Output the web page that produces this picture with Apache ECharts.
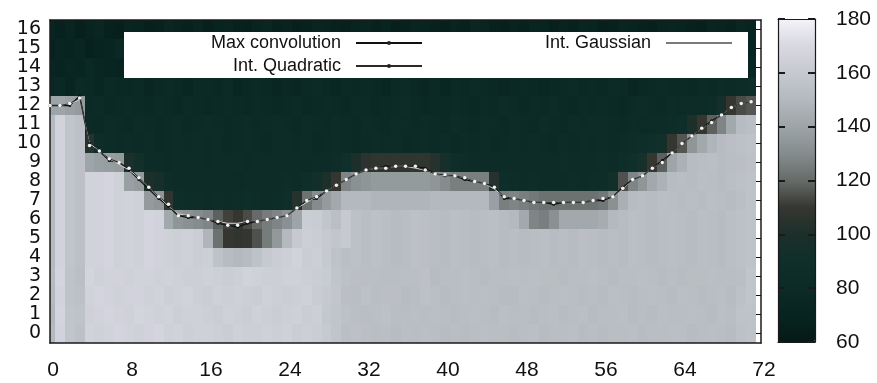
<!DOCTYPE html>
<html>
<head>
<meta charset="utf-8">
<script src="https://cdn.jsdelivr.net/npm/echarts@6/dist/echarts.min.js"></script>
<style>
  html, body { margin: 0; padding: 0; background: #fff; }
  #chart { width: 877px; height: 383px; }
</style>
</head>
<body>
<div id="chart"></div>
<script>
// Column positions (x) and row positions (y) of the intensity grid
const xCols = [0,1,2,3,4,5,6,7,8,9,10,11,12,13,14,15,16,17,18,19,20,21,22,23,
  24,25,26,27,28,29,30,31,32,33,34,35,36,37,38,39,40,41,42,43,44,45,46,47,
  48,49,50,51,52,53,54,55,56,57,58,59,60,61,62,63,64,65,66,67,68,69,70,71];
const yRows = [0,1,2,3,4,5,6,7,8,9,10,11,12,13,14,15,16];

// Intensity values, one array per row, listed from the top row (16) down to row 0
const row16 = [70,68,72,66,70,74,68,66, 72,70,66,68,74,70,68,72, 66,70,72,68,66,70,74,68, 70,66,68,72,70,68,66,70, 72,68,70,66,68,72,70,68, 66,70,68,74,72,68,66,70, 68,72,70,66,70,68,72,70, 66,68,72,70,68,66,70,72, 70,68,66,72,70,68,74,70];
const row15 = [68,72,70,74,68,70,72,76, 70,74,72,70,68,72,76,74, 72,68,70,74,72,68,70,72, 74,72,70,68,72,74,70,68, 70,72,74,70,68,70,72,74, 72,70,68,70,74,72,70,68, 70,74,72,70,68,72,74,72, 72,70,68,72,74,70,72,68, 74,72,70,68,72,74,70,72];
const row14 = [72,70,74,72,76,74,72,70, 74,72,76,78,74,72,70,74, 76,74,72,70,74,76,72,74, 72,76,74,72,70,74,78,76, 74,72,70,76,74,72,74,70, 76,74,72,74,70,76,74,72, 74,72,76,74,72,70,74,76, 72,74,70,72,76,74,72,74, 76,72,74,78,72,74,76,74];
const row13 = [74,76,72,78,76,74,78,76, 76,78,74,76,80,76,74,78, 78,76,80,74,76,78,76,74, 76,74,78,80,76,74,78,76, 78,76,74,78,80,76,74,78, 74,78,76,80,78,76,74,76, 78,76,74,76,78,80,76,78, 76,80,78,74,76,78,80,78, 78,76,80,78,82,80,84,86];
const row12 = [140,140,138,136,78,80,76,78, 80,78,76,80,78,76,80,78, 76,78,80,78,76,80,78,76, 78,80,76,78,80,78,76,80, 80,76,78,80,82,78,76,78, 78,80,78,76,80,78,82,80, 76,80,78,82,78,76,80,78, 80,78,76,80,82,80,78,82, 80,82,84,86,96,110,114,116];
const row11 = [150,166,157,155,80,78,82,80, 78,82,80,78,80,82,78,80, 82,80,78,80,82,78,80,82, 80,78,82,80,78,82,80,78, 82,80,78,82,80,78,82,80, 78,82,80,78,82,80,78,82, 80,78,82,80,78,82,80,82, 82,80,78,82,80,82,84,86, 88,100,110,118,128,142,152,154];
const row10 = [150,166,157,155,104,86,82,80, 82,80,82,78,80,82,80,82, 80,82,78,80,82,80,78,82, 82,80,82,78,80,82,80,78, 80,82,80,82,78,80,82,80, 82,78,82,80,82,78,80,82, 80,82,80,78,82,80,82,80, 82,80,84,86,88,90,92,110, 116,134,142,148,152,154,155,156];
const row9  = [150,166,157,155,140,138,137,136, 100,92,84,82,80,82,84,82, 80,82,84,82,80,82,84,82, 84,82,80,82,84,86,90,100, 106,108,108,108,108,108,108,104, 95,88,86,84,82,84,82,84, 82,84,82,84,86,84,82,84, 86,84,88,90,98,110,118,140, 146,152,153,154,152,153,154,155];
const row8  = [150,166,157,155,166,166,167,165, 138,136,100,95,86,84,82,84, 82,84,82,80,82,84,82,84, 86,84,88,92,100,110,128,132, 134,136,136,136,136,136,136,134, 130,126,126,126,126,104,88,86, 84,86,84,82,84,86,84,86, 86,92,115,128,134,142,146,152, 153,152,154,153,152,154,155,156];
const row7  = [150,166,157,155,166,166,167,165, 166,165,136,134,108,88,86,86, 84,86,84,86,88,86,84,86, 88,104,122,130,136,142,150,150, 150,148,148,148,148,148,148,150, 150,150,150,150,150,138,126,128, 126,124,122,122,122,122,122,122, 124,132,145,152,153,152,154,153, 152,153,152,154,153,152,154,156];
const row6  = [150,166,157,155,166,166,167,165, 166,165,167,166,142,134,132,130, 128,118,112,110,114,120,125,128, 132,140,163,162,158,154,160,155, 153,155,154,152,153,155,154,153, 152,154,153,152,153,154,152,150, 142,128,126,132,142,142,142,142, 144,150,152,154,153,152,153,154, 153,152,154,153,152,154,155,156];
const row5  = [150,166,157,155,166,166,167,165, 166,165,167,166,165,164,165,163, 148,122,110,108,110,115,125,135, 150,160,164,163,160,158,160,155, 153,155,154,152,153,155,154,153, 152,154,153,152,153,154,152,153, 152,153,154,152,153,152,154,153, 152,153,152,154,153,152,153,154, 153,152,154,153,152,154,155,156];
const row4  = [150,166,157,155,166,166,167,165, 166,165,167,166,165,164,165,163, 164,156,152,150,152,156,160,163, 164,166,163,164,160,156,154,155, 153,155,154,152,153,155,154,153, 152,154,153,152,153,154,152,153, 152,153,154,152,153,152,154,153, 152,153,152,154,153,152,153,154, 153,152,154,153,152,154,155,156];
const row3  = [151,167,156,154,167,165,166,166, 165,166,166,165,166,165,164,164, 165,164,163,164,166,165,164,164, 165,165,164,163,161,157,155,154, 154,154,153,153,154,154,155,152, 153,153,154,153,152,153,153,154, 153,154,153,153,152,153,153,154, 153,152,153,153,154,153,152,153, 152,153,153,154,153,153,154,157];
const row2  = [150,166,156,155,166,167,166,165, 166,166,165,166,164,165,166,164, 163,165,164,165,164,163,165,164, 163,164,165,162,160,158,154,153, 155,153,154,154,152,153,155,154, 152,153,154,153,154,153,152,152, 154,153,152,153,154,153,152,153, 152,154,153,152,153,154,153,152, 154,153,152,153,154,152,155,157];
const row1  = [149,167,157,156,165,166,167,166, 165,167,166,165,166,164,165,165, 164,163,165,164,163,165,164,163, 164,165,163,164,159,157,155,154, 153,154,155,153,153,154,153,154, 153,152,153,154,153,152,154,153, 153,152,153,154,152,153,154,152, 153,153,154,152,153,152,154,153, 153,154,153,152,154,153,156,156];
const row0  = [150,166,157,155,166,165,166,167, 166,165,166,167,165,166,164,165, 165,164,163,165,164,164,165,164, 165,163,164,163,160,157,154,155, 154,153,154,152,154,153,154,153, 152,153,152,153,154,153,153,152, 153,154,152,153,153,154,152,153, 152,153,153,154,152,153,153,154, 154,152,153,154,153,152,155,156];
const rowsTopDown = [row16,row15,row14,row13,row12,row11,row10,row9,row8,row7,row6,row5,row4,row3,row2,row1,row0];

// Boundary position estimated by each method, one value per column
const maxConvolution = [12.0,12.0,12.0,12.5,10.0,9.6,9.1,9.0, 8.6,8.1,7.6,7.1,6.7,6.2,6.1,6.1, 6.0,5.8,5.7,5.6,5.8,5.9,6.0,6.1, 6.2,6.6,7.0,7.1,7.5,7.8,8.1,8.4, 8.6,8.7,8.8,8.8,8.8,8.8,8.7,8.4, 8.3,8.3,8.1,8.0,7.9,7.7,7.1,7.1, 7.0,6.9,6.9,6.8,6.9,6.9,6.9,7.0, 7.0,7.2,7.7,8.1,8.3,8.7,9.1,9.5, 10.0,10.4,10.8,11.2,11.5,11.9,12.1,12.2];
const intQuadratic = [12.0,12.0,12.1,12.4,9.9,9.6,9.2,9.0, 8.7,8.2,7.7,7.2,6.8,6.2,6.2,6.1, 6.0,5.9,5.7,5.7,5.9,5.9,6.0,6.1, 6.2,6.6,7.0,7.2,7.5,7.8,8.1,8.4, 8.6,8.7,8.7,8.8,8.8,8.8,8.6,8.4, 8.35,8.3,8.2,8.0,7.9,7.7,7.2,7.1, 7.0,6.9,6.9,6.9,6.9,6.9,6.9,7.0, 7.1,7.2,7.65,8.1,8.3,8.7,9.0,9.5, 10.0,10.4,10.8,11.1,11.5,11.9,12.1,12.2];
const intGaussian = [12.0,12.0,12.1,12.3,10.0,9.6,9.2,8.9, 8.6,8.2,7.7,7.2,6.7,6.3,6.2,6.1, 6.0,5.9,5.8,5.8,5.9,5.9,6.0,6.1, 6.2,6.6,6.9,7.2,7.5,7.8,8.1,8.4, 8.6,8.7,8.7,8.8,8.8,8.7,8.6,8.4, 8.3,8.3,8.2,8.0,7.9,7.6,7.2,7.1, 7.0,6.9,6.9,6.9,6.9,6.9,6.9,7.0, 7.1,7.2,7.6,8.1,8.3,8.7,9.0,9.5, 10.0,10.4,10.8,11.1,11.5,11.9,12.1,12.2];

// Colour scale range and its palette (dark teal -> grey -> pale lavender)
const scaleMin = 60, scaleMax = 180, scaleStep = 20;
const palette = ['#051a17','#082420','#0c2a26','#0f2f2a','#1c2f2a','#363631',
  '#666b69','#858c8d','#9ea5a8','#b3b9be','#c6c9d0','#d8d8e2','#f4f3f9'];

const cells = [];
rowsTopDown.forEach((vals, r) => {
  const y = yRows[yRows.length - 1 - r];
  vals.forEach((v, c) => cells.push([xCols[c], y, v]));
});
const pairs = vals => vals.map((v, i) => [xCols[i], v]);

function renderCell(params, api) {
  const x = api.value(0), y = api.value(1);
  const a = api.coord([x - 0.5, y + 0.5]);
  const b = api.coord([x + 0.5, y - 0.5]);
  const left = Math.round(a[0]), top = Math.round(a[1]);
  return {
    type: 'rect',
    shape: { x: left, y: top, width: Math.round(b[0]) - left, height: Math.round(b[1]) - top },
    style: { fill: api.visual('color') }
  };
}

const FONT = 'Liberation Sans, Arial, Helvetica, sans-serif';
const frame = { show: true, onZero: false, lineStyle: { color: '#1a1a1a', width: 1.5 } };
const thinFrame = { show: true, onZero: false, lineStyle: { color: '#1a1a1a', width: 1.2 } };
const legendText = { fontSize: 18, color: '#111', padding: [0, 10, 0, 0], fontFamily: FONT };

const chart = echarts.init(document.getElementById('chart'), null, { renderer: 'canvas' });
chart.setOption({
  backgroundColor: '#ffffff',
  animation: false,
  textStyle: { fontFamily: FONT },
  grid: [
    { left: 50, top: 20, width: 711, height: 323 },
    { left: 778, top: 19, width: 37, height: 323 }
  ],
  xAxis: [
    { type: 'value', gridIndex: 0, min: 0, max: 72, interval: 8, position: 'bottom', z: 5,
      axisLine: frame, axisTick: { show: false }, splitLine: { show: false },
      axisLabel: { fontSize: 21, color: '#111', margin: 17, padding: [0, 0, 0, 6], fontFamily: FONT } },
    { type: 'value', gridIndex: 0, min: 0, max: 72, interval: 8, position: 'top', z: 5,
      axisLine: frame, axisTick: { show: false }, splitLine: { show: false }, axisLabel: { show: false } },
    { type: 'value', gridIndex: 1, min: 0, max: 1, position: 'bottom', z: 6,
      axisLine: thinFrame, axisTick: { show: false }, splitLine: { show: false }, axisLabel: { show: false } },
    { type: 'value', gridIndex: 1, min: 0, max: 1, position: 'top', z: 6,
      axisLine: thinFrame, axisTick: { show: false }, splitLine: { show: false }, axisLabel: { show: false } }
  ],
  yAxis: [
    { type: 'value', gridIndex: 0, min: -0.5, max: 16.5, position: 'left', z: 5,
      axisLine: frame, axisTick: { show: false }, splitLine: { show: false },
      axisLabel: { customValues: yRows, showMinLabel: true, showMaxLabel: true,
        fontSize: 19, lineHeight: 18, color: '#111', margin: 9, fontFamily: 'DejaVu Sans, sans-serif' } },
    { type: 'value', gridIndex: 0, min: -0.5, max: 16.5, position: 'right', z: 5,
      axisLine: frame, splitLine: { show: false }, axisLabel: { show: false },
      axisTick: { show: true, inside: true, length: 5, customValues: yRows, lineStyle: { color: '#111', width: 1 } } },
    { type: 'value', gridIndex: 1, min: scaleMin, max: scaleMax, interval: scaleStep, position: 'right', z: 6,
      axisLine: thinFrame, splitLine: { show: false },
      axisTick: { show: true, inside: true, length: 7, lineStyle: { color: '#1a1a1a', width: 2 } },
      axisLabel: { fontSize: 21, color: '#111', margin: 21, fontFamily: FONT } },
    { type: 'value', gridIndex: 1, min: scaleMin, max: scaleMax, interval: scaleStep, position: 'left', z: 6,
      axisLine: thinFrame, splitLine: { show: false }, axisLabel: { show: false },
      axisTick: { show: true, inside: true, length: 7, lineStyle: { color: '#1a1a1a', width: 2 } } }
  ],
  visualMap: {
    type: 'continuous', min: scaleMin, max: scaleMax, dimension: 2, seriesIndex: 0,
    calculable: false, hoverLink: false, orient: 'vertical',
    left: 778, top: 19, itemWidth: 37, itemHeight: 323, padding: 0,
    inRange: { color: palette }
  },
  graphic: [
    { type: 'rect', left: 124, top: 32, z: 3, shape: { width: 624, height: 46 },
      style: { fill: '#ffffff' } }
  ],
  legend: [
    { data: [{ name: 'Max convolution', itemStyle: { color: '#222' } }], right: 454, top: 34,
      align: 'right', itemWidth: 66, itemHeight: 5, padding: 0, textStyle: legendText },
    { data: [{ name: 'Int. Quadratic', itemStyle: { color: '#222' } }], right: 454, top: 57,
      align: 'right', itemWidth: 66, itemHeight: 5, padding: 0, textStyle: legendText },
    { data: [{ name: 'Int. Gaussian', lineStyle: { color: '#7a7a7a' }, itemStyle: { color: 'rgba(0,0,0,0)', borderWidth: 0 } }],
      right: 144, top: 34, align: 'right', itemWidth: 66, itemHeight: 5, padding: 0, textStyle: legendText }
  ],
  series: [
    { type: 'custom', name: 'intensity', xAxisIndex: 0, yAxisIndex: 0, clip: true, z: 1,
      renderItem: renderCell, encode: { x: 0, y: 1 }, data: cells, silent: true },
    { type: 'line', name: 'Max convolution', xAxisIndex: 0, yAxisIndex: 0, z: 4,
      data: pairs(maxConvolution), symbol: 'circle', symbolSize: 3,
      lineStyle: { color: '#111', width: 1.3 }, itemStyle: { color: '#111' } },
    { type: 'line', name: 'Int. Quadratic', xAxisIndex: 0, yAxisIndex: 0, z: 5,
      data: pairs(intQuadratic), symbol: 'circle', symbolSize: 3.5,
      lineStyle: { color: '#2a2a2a', width: 1 }, itemStyle: { color: '#f2f2f2' } },
    { type: 'line', name: 'Int. Gaussian', xAxisIndex: 0, yAxisIndex: 0, z: 4,
      data: pairs(intGaussian), symbol: 'none',
      lineStyle: { color: '#cfcfcf', width: 1 }, itemStyle: { color: '#9a9a9a' } }
  ]
});
</script>
</body>
</html>
